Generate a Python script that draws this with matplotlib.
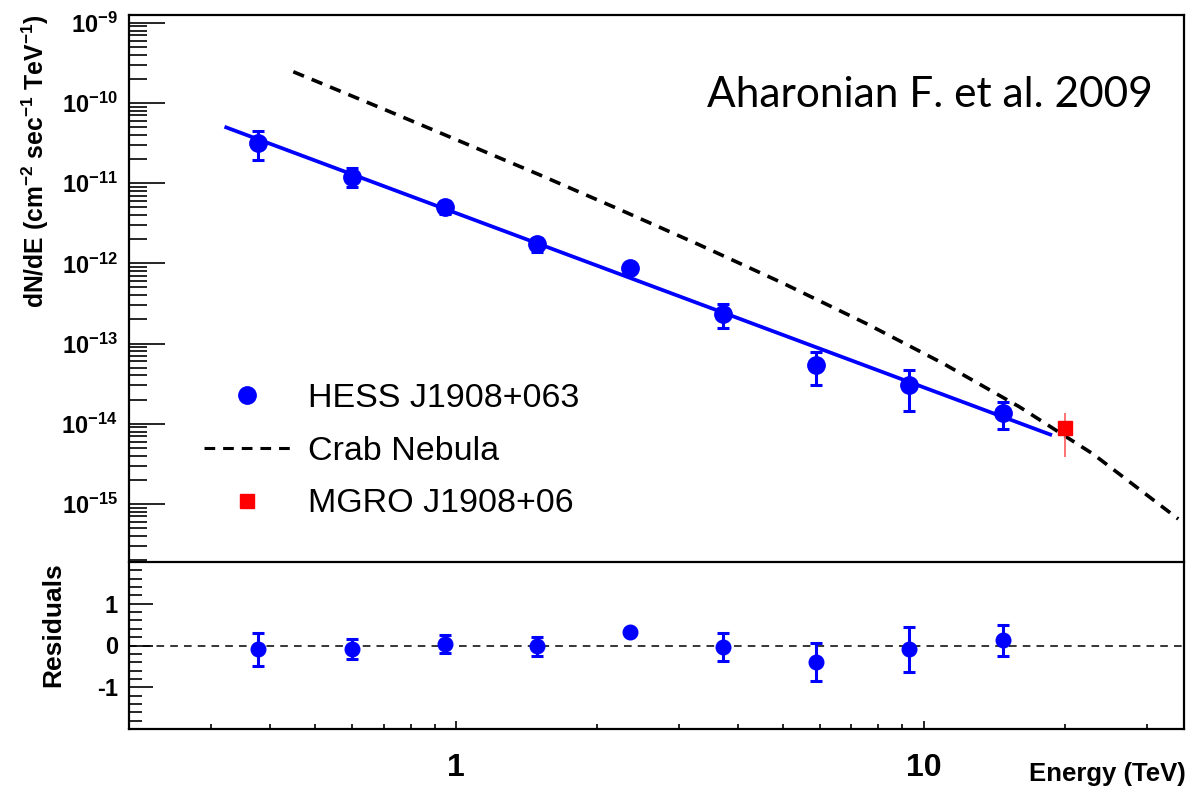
import numpy as np
import matplotlib
matplotlib.use("Agg")
import matplotlib.pyplot as plt
from matplotlib.ticker import FixedLocator, LogLocator, FuncFormatter, MultipleLocator, NullFormatter
from matplotlib.lines import Line2D

plt.rcParams['font.family'] = ['Liberation Sans', 'DejaVu Sans']
plt.rcParams['mathtext.default'] = 'regular'
plt.rcParams['axes.unicode_minus'] = False

# ---------------- data ----------------
energy = [0.378, 0.598, 0.949, 1.49, 2.36, 3.72, 5.89, 9.30, 14.8]
flux = [3.19e-11, 1.18e-11, 4.99e-12, 1.74e-12, 8.67e-13, 2.33e-13, 5.4e-14, 3.03e-14, 1.35e-14]
flux_hi = [4.5e-11, 1.55e-11, 6.0e-12, 2.1e-12, 9.6e-13, 3.09e-13, 7.8e-14, 4.68e-14, 1.88e-14]
flux_lo = [1.94e-11, 8.9e-12, 4.1e-12, 1.4e-12, 7.8e-13, 1.58e-13, 3.0e-14, 1.45e-14, 8.6e-15]

fit_energy = [0.32, 18.8]
fit_flux = [5.05e-11, 7.2e-15]

crab_energy = [0.449, 0.70, 1.0, 1.5, 2.2, 3.3, 5.0, 7.5, 11.0, 16.0, 23.0, 35.0]
crab_flux = [2.45e-10, 8.4e-11, 3.5e-11, 1.29e-11, 4.9e-12, 1.72e-12, 5.66e-13,
             1.80e-13, 5.65e-14, 1.63e-14, 4.2e-15, 6.5e-16]

mgro_energy = [20.0]
mgro_flux = [8.77e-15]
mgro_hi = [1.35e-14]
mgro_lo = [3.81e-15]

residual = [-0.09, -0.09, 0.03, -0.02, 0.33, -0.04, -0.40, -0.09, 0.12]
residual_err = [0.39, 0.24, 0.22, 0.22, 0.05, 0.34, 0.45, 0.54, 0.37]

ytick_exponents = [-9, -10, -11, -12, -13, -14, -15]
resid_ticks = [-1, 0, 1]
xtick_values = [1, 10]
xtick_labels = ["1", "10"]

legend_labels = ["HESS J1908+063", "Crab Nebula", "MGRO J1908+06"]
title_text = "Aharonian F. et al. 2009"

# ---------------- figure ----------------
W, H = 1190, 787
fig = plt.figure(figsize=(W / 100, H / 100), dpi=100)

def frac(x0, y0, x1, y1):
    return [x0 / W, 1 - y1 / H, (x1 - x0) / W, (y1 - y0) / H]

ax1 = fig.add_axes(frac(129, 15, 1184, 560))
ax2 = fig.add_axes(frac(129, 562, 1184, 729), sharex=ax1)

blue = '#0000ff'
red = '#ff0000'
crab_dash = (3.2, 2.3)

# top panel
ax1.plot(fit_energy, fit_flux, color=blue, lw=2.7, zorder=2, solid_capstyle='butt')
ax1.plot(crab_energy, crab_flux, color='black', lw=2.6, dashes=crab_dash, zorder=3)
f = np.array(flux)
ax1.errorbar(energy, flux, yerr=[f - np.array(flux_lo), np.array(flux_hi) - f],
             fmt='o', color=blue, ms=12.5, elinewidth=2.2, capsize=4, capthick=2.2, zorder=4)
m = np.array(mgro_flux)
ax1.errorbar(mgro_energy, mgro_flux, yerr=[m - np.array(mgro_lo), np.array(mgro_hi) - m],
             fmt='none', ecolor='#ff5a5a', elinewidth=1.2, capsize=0, zorder=4)
ax1.plot(mgro_energy, mgro_flux, 's', color=red, ms=10, zorder=4)

ax1.set_xscale('log')
ax1.set_yscale('log')
ax1.set_xlim(0.2, 36)
ax1.set_ylim(2e-16, 1.25e-9)

ax1.yaxis.set_major_locator(FixedLocator([10.0 ** e for e in ytick_exponents]))
ax1.yaxis.set_major_formatter(FuncFormatter(lambda v, p: r'$10^{%d}$' % int(round(np.log10(v)))))
ax1.yaxis.set_minor_locator(LogLocator(base=10, subs=np.arange(2, 10), numticks=50))
ax1.yaxis.set_minor_formatter(NullFormatter())
ax1.tick_params(axis='y', which='major', direction='in', length=26, width=1.2, pad=8,
                labelsize=17, left=True, right=False)
ax1.tick_params(axis='y', which='minor', direction='in', length=13, width=1.2, left=True, right=False)
ax1.tick_params(axis='x', which='both', bottom=False, top=False, labelbottom=False)
for lab in ax1.get_yticklabels():
    lab.set_fontweight('bold')
ax1.spines['bottom'].set_visible(False)
for s in ['left', 'top', 'right']:
    ax1.spines[s].set_linewidth(1.6)

handles = [
    Line2D([], [], ls='none', marker='o', color=blue, ms=12.5),
    Line2D([], [], color='black', lw=2.2, dashes=(3.5, 2.6)),
    Line2D([], [], ls='none', marker='s', color=red, ms=10),
]
leg = ax1.legend(handles, legend_labels, loc='upper left', bbox_to_anchor=(0.071, 0.325),
                 frameon=False, fontsize=24.5, handlelength=2.55, handletextpad=0.52,
                 labelspacing=0.64, borderpad=0, borderaxespad=0)

fig.text(1153 / W, 1 - 107 / H, title_text, ha='right', va='baseline',
         fontsize=30.5, family=['Lato', 'DejaVu Sans'])

fig.text(35 / W, 1 - 161 / H, r'dN/dE (cm$^{-2}$ sec$^{-1}$ TeV$^{-1}$)', rotation=90,
         ha='center', va='center', fontsize=17.8, fontweight='bold')

# residual panel
ax2.axhline(0, color='black', lw=1.1, dashes=(5, 4), zorder=1)
ax2.errorbar(energy, residual, yerr=residual_err, fmt='o', color=blue, ms=10.5,
             elinewidth=2.2, capsize=4, capthick=2.2, zorder=3)
ax2.set_ylim(-2, 2)
ax2.yaxis.set_major_locator(FixedLocator(resid_ticks))
ax2.yaxis.set_minor_locator(MultipleLocator(0.2))
ax2.tick_params(axis='y', which='major', direction='in', length=17, width=1.2, pad=8,
                labelsize=17, left=True, right=False)
ax2.tick_params(axis='y', which='minor', direction='in', length=9, width=1.2, left=True, right=False)
ax2.xaxis.set_major_locator(FixedLocator(xtick_values))
ax2.xaxis.set_major_formatter(FuncFormatter(
    lambda v, p: xtick_labels[xtick_values.index(int(round(v)))] if int(round(v)) in xtick_values else ''))
ax2.xaxis.set_minor_locator(LogLocator(base=10, subs=np.arange(2, 10), numticks=50))
ax2.xaxis.set_minor_formatter(NullFormatter())
ax2.tick_params(axis='x', which='major', direction='in', length=6, width=1.2, pad=17,
                labelsize=23, bottom=True, top=False)
ax2.tick_params(axis='x', which='minor', direction='in', length=3.5, width=1.2, bottom=True, top=False)
for lab in ax2.get_yticklabels() + ax2.get_xticklabels():
    lab.set_fontweight('bold')
for s in ax2.spines.values():
    s.set_linewidth(1.6)

fig.text(53 / W, 1 - 625 / H, 'Residuals', rotation=90, ha='center', va='center',
         fontsize=19, fontweight='bold')
fig.text(1186 / W, 1 - 781 / H, 'Energy (TeV)', ha='right', va='baseline',
         fontsize=18.5, fontweight='bold')

fig.savefig('out.png', dpi=100)
